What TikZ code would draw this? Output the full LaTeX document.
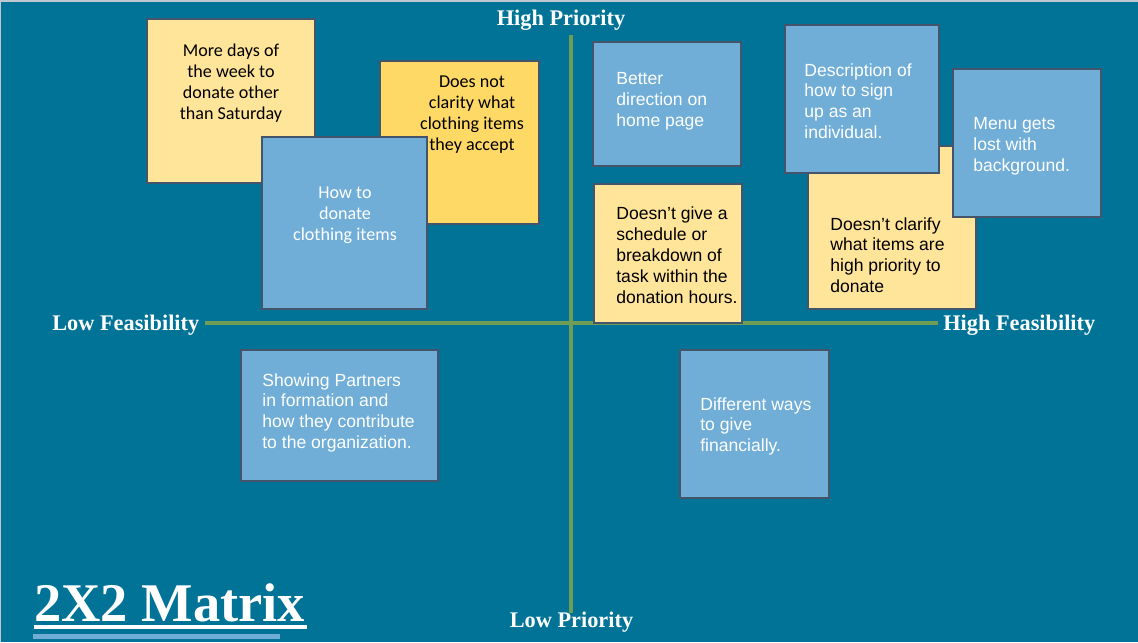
\documentclass[tikz,border=0pt]{standalone}
\usepackage{fontspec}
\setmainfont{Liberation Serif}
\newfontfamily\armfont{Liberation Sans}
\newfontfamily\calfont{Carlito}
\usepackage{tikz}
\usetikzlibrary{shadows}
\definecolor{slide}{RGB}{0,115,151}
\definecolor{slideedge}{RGB}{190,200,208}
\definecolor{noteblue}{RGB}{112,174,216}
\definecolor{noteyellow}{RGB}{255,229,153}
\definecolor{notegold}{RGB}{255,217,102}
\definecolor{noteedge}{RGB}{68,84,106}
\definecolor{axisgreen}{RGB}{112,157,86}

\begin{document}
\begin{tikzpicture}[x=0.02cm, y=-0.02cm,
  note/.style={draw=noteedge, line width=0.7pt, inner sep=0pt,
    drop shadow={opacity=0.3, shadow xshift=0.7pt, shadow yshift=-0.7pt}},
  bluenote/.style={note, fill=noteblue},
  yellownote/.style={note, fill=noteyellow},
  goldnote/.style={note, fill=notegold},
  caltext/.style={font={\calfont\fontsize{10.3pt}{11.8pt}\selectfont}, align=center, inner sep=0pt, anchor=north},
  armtext/.style={font={\armfont\fontsize{10pt}{11.9pt}\selectfont}, align=left, inner sep=0pt, anchor=north west},
  axislabel/.style={font={\bfseries\fontsize{12.7pt}{14pt}\selectfont}, text=white, inner sep=0pt},
  axisline/.style={draw=axisgreen, line width=1.9pt}]
  \useasboundingbox (0,0) rectangle (1138,642);
  \fill[slide] (0,0) rectangle (1138,642);
  \draw[slideedge, line width=1.2pt] (0,642) -- (0,1) -- (1138,1);

  % axes
  \coordinate (top) at (571,35);
  \coordinate (bottom) at (571,613);
  \coordinate (left) at (205,323);
  \coordinate (right) at (938,323);
  \draw[axisline] (top) -- (bottom);
  \draw[axisline] (left) -- (right);

  \node[axislabel, anchor=base] (hiprio) at (561,26) {High Priority};
  \node[axislabel, anchor=base] (loprio) at (571.5,627) {Low Priority};
  \node[axislabel, anchor=base west] (lofeas) at (52,330) {Low Feasibility};
  \node[axislabel, anchor=base west] (hifeas) at (943,330) {High Feasibility};

  % upper left
  \node[yellownote, minimum width=3.36cm, minimum height=3.28cm] (days) at (231,101) {};
  \node[caltext] (daystxt) at (231,44) {More days of\\the week to\\donate other\\than Saturday};
  \node[goldnote, minimum width=3.18cm, minimum height=3.26cm] (accept) at (459.5,142.5) {};
  \node[caltext] (accepttxt) at (472,76) {Does not\\clarity what\\clothing items\\they accept};
  \node[bluenote, minimum width=3.30cm, minimum height=3.44cm] (howto) at (344.5,223) {};
  \node[caltext, text=white] (howtotxt) at (345,187) {How to\\donate\\clothing items};

  % upper right
  \node[bluenote, minimum width=2.96cm, minimum height=2.48cm] (home) at (667,104) {};
  \node[armtext, text=white] (hometxt) at (616,72) {Better\\direction on\\home page};
  \node[yellownote, minimum width=2.96cm, minimum height=2.78cm] (sched) at (668,253.5) {};
  \node[armtext] (schedtxt) at (616,206.5) {Doesn’t give a\\schedule or\\breakdown of\\task within the\\donation hours.};
  \node[yellownote, minimum width=3.36cm, minimum height=3.26cm] (items) at (892,227.5) {};
  \node[armtext] (itemstxt) at (830,217) {Doesn’t clarify\\what items are\\high priority to\\donate};
  \node[bluenote, minimum width=3.08cm, minimum height=2.96cm] (signup) at (862,99) {};
  \node[armtext, text=white] (signuptxt) at (804,63) {Description of\\how to sign\\up as an\\individual.};
  \node[bluenote, minimum width=2.96cm, minimum height=2.96cm] (menu) at (1027,143) {};
  \node[armtext, text=white] (menutxt) at (973,117) {Menu gets\\lost with\\background.};

  % lower half
  \node[bluenote, minimum width=3.94cm, minimum height=2.62cm] (partners) at (339.5,415.5) {};
  \node[armtext, text=white] (partnerstxt) at (262,373) {Showing Partners\\in formation and\\how they contribute\\to the organization.};
  \node[bluenote, minimum width=2.98cm, minimum height=2.96cm] (money) at (754.5,424) {};
  \node[armtext, text=white] (moneytxt) at (700,397) {Different ways\\to give\\financially.};

  % title
  \node[font={\bfseries\fontsize{31pt}{34pt}\selectfont}, text=white, inner sep=0pt, anchor=base west] (title) at (34,621) {2X2 Matrix};
  \draw[white, line width=2.3pt] (title.south west |- 0,627) -- (307,627);
  \draw[noteblue, line width=2.8pt] (33,636.5) -- (280,636.5);
\end{tikzpicture}
\end{document}
